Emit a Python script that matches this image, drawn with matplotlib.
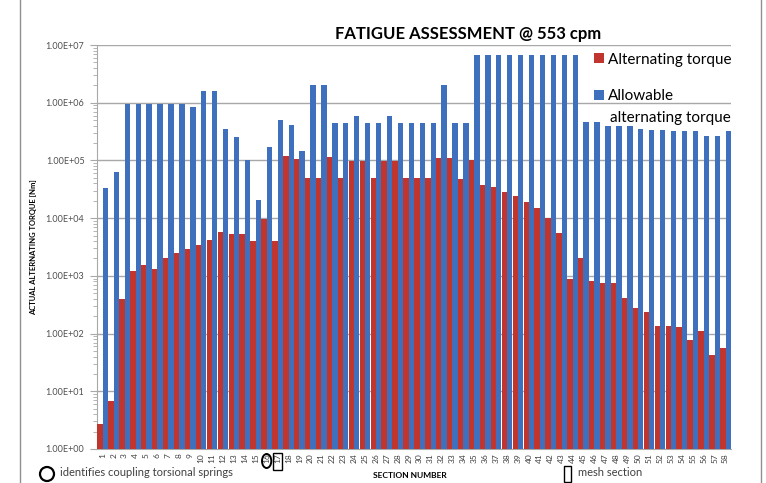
import numpy as np
import matplotlib
matplotlib.use("Agg")
import matplotlib.pyplot as plt
import matplotlib.transforms as mtransforms
from matplotlib.patches import Ellipse, Rectangle
from matplotlib.ticker import LogLocator, FuncFormatter, NullFormatter

plt.rcParams['font.family'] = ['Lato', 'DejaVu Sans']

# section numbers 1..58
sections = list(range(1, 59))

# alternating torque [Nm] (red)
alternating = [2.7, 6.9, 390, 1230, 1540, 1290, 2030, 2450, 2900, 3450,
               4150, 5800, 5400, 5400, 4050, 9600, 4050, 1.2e5, 1.05e5, 5.0e4,
               4.9e4, 1.15e5, 4.9e4, 9.8e4, 9.8e4, 4.9e4, 9.8e4, 9.8e4, 4.9e4, 4.9e4,
               4.9e4, 1.12e5, 1.12e5, 4.8e4, 1.03e5, 3.8e4, 3.4e4, 2.85e4, 2.4e4, 1.94e4,
               1.5e4, 1.0e4, 5.5e3, 870, 2000, 800, 750, 750, 410, 275,
               235, 137, 134, 129, 76, 110, 42, 57]

# allowable alternating torque [Nm] (blue)
allowable = [3.3e4, 6.2e4, 9.4e5, 9.4e5, 9.4e5, 9.4e5, 9.4e5, 9.4e5, 8.6e5, 1.6e6,
             1.6e6, 3.5e5, 2.5e5, 1.0e5, 2.1e4, 1.74e5, 5.0e5, 4.1e5, 1.46e5, 2.0e6,
             2.0e6, 4.5e5, 4.5e5, 6.0e5, 4.5e5, 4.5e5, 6.0e5, 4.5e5, 4.5e5, 4.5e5,
             4.5e5, 2.0e6, 4.5e5, 4.5e5, 6.8e6, 6.8e6, 6.8e6, 6.8e6, 6.8e6, 6.8e6,
             6.8e6, 6.8e6, 6.8e6, 6.8e6, 4.6e5, 4.6e5, 4.0e5, 3.9e5, 3.9e5, 3.55e5,
             3.4e5, 3.4e5, 3.3e5, 3.24e5, 3.24e5, 2.7e5, 2.7e5, 3.24e5]

red = '#C0352E'
blue = '#3E70BE'

fig = plt.figure(figsize=(7.66, 4.83), dpi=100)
ax = fig.add_axes([0.1266, 0.0704, 0.8277, 0.8364])

x = np.array(sections)
w = 0.49
ax.bar(x - w / 2, alternating, width=w, color=red, label='Alternating torque', zorder=3)
ax.bar(x + w / 2, allowable, width=w, color=blue, label='Allowable', zorder=3)

ax.set_yscale('log')
ax.set_ylim(1, 1e7)
ax.set_xlim(0.47, 58.5)
ax.yaxis.set_major_locator(LogLocator(base=10, numticks=10))
ax.yaxis.set_minor_locator(LogLocator(base=10, subs=np.arange(2, 10), numticks=20))
ax.yaxis.set_minor_formatter(NullFormatter())
ax.yaxis.set_major_formatter(FuncFormatter(lambda v, p: f"{v:.2E}"))
ax.grid(axis='y', which='major', color='#A8A8A8', lw=1, zorder=0)

ax.set_xticks(x)
ax.set_xticklabels([str(s) for s in sections], rotation=90, fontsize=6, color='#404040')
ax.tick_params(axis='x', length=0, pad=3)
ax.tick_params(axis='y', which='major', labelsize=6.5, labelcolor='#505050',
               color='#A8A8A8', length=5, pad=4)
ax.tick_params(axis='y', which='minor', color='#A8A8A8', length=3)

for s in ['top', 'right']:
    ax.spines[s].set_visible(False)
for s in ['left', 'bottom']:
    ax.spines[s].set_color('#A8A8A8')

ax.set_ylabel('ACTUAL ALTERNATING TORQUE [Nm]', fontsize=5.5, fontweight='bold', labelpad=6)
ax.set_title('FATIGUE ASSESSMENT @ 553 cpm', fontsize=12, fontweight='bold',
             x=0.585, y=1.0, pad=4)

leg = ax.legend(loc='upper left', bbox_to_anchor=(0.77, 1.004), frameon=False,
                fontsize=11, handlelength=0.6, handleheight=0.6, handletextpad=0.3,
                labelspacing=1.5, borderaxespad=0.2)
# second line of the allowable legend entry
fig.text(610 / 766, 1 - 118 / 483, 'alternating torque', fontsize=11,
         ha='left', va='center')

fig.text(410 / 766, 1 - 476 / 483, 'SECTION NUMBER', fontsize=6, fontweight='bold',
         ha='center', va='center')
fig.text(60 / 766, 1 - 472 / 483, 'identifies coupling torsional springs', fontsize=8,
         color='#404040', ha='left', va='center')
fig.add_artist(Ellipse((47 / 766, 1 - 474 / 483), 14 / 766, 14 / 483,
                       transform=fig.transFigure, fill=False, lw=1.6, color='black'))
fig.text(578 / 766, 1 - 472 / 483, 'mesh section', fontsize=8, color='#404040',
         ha='left', va='center')
fig.add_artist(Rectangle((564 / 766, 1 - 482 / 483), 7 / 766, 16 / 483,
                         transform=fig.transFigure, fill=False, lw=1.0, color='black'))

# markers around tick labels 16 and 17
trans = mtransforms.blended_transform_factory(ax.transData, fig.transFigure)
fig.add_artist(Ellipse((16, 1 - 461 / 483), 0.85, 14 / 483, transform=trans,
                       fill=False, lw=1.4, color='black'))
fig.add_artist(Rectangle((16.6, 1 - 470 / 483), 0.8, 17 / 483, transform=trans,
                         fill=False, lw=1.0, color='black'))

# outer frame lines
fig.add_artist(plt.Line2D([20 / 766, 20 / 766], [0, 1], transform=fig.transFigure,
                          color='#909090', lw=1))
fig.add_artist(plt.Line2D([761 / 766, 761 / 766], [0, 1], transform=fig.transFigure,
                          color='#909090', lw=1))

fig.savefig('out.png', dpi=100, facecolor='white')
